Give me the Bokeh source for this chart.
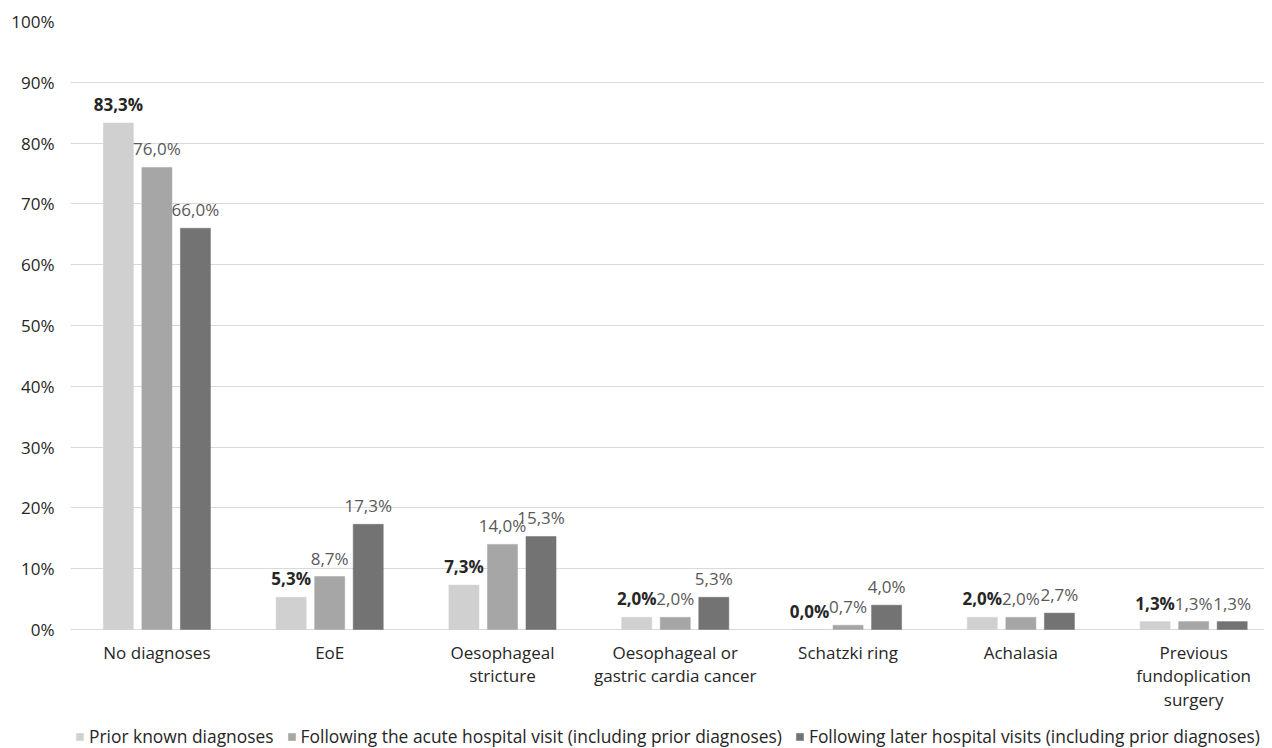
from bokeh.plotting import figure
from bokeh.models import ColumnDataSource, Range1d, FixedTicker, Legend, LegendItem
from bokeh.transform import dodge
from bokeh.embed import file_html
from bokeh.resources import INLINE
from bokeh.core.properties import value

categories = ["No diagnoses", "EoE", "Oesophageal\nstricture", "Oesophageal or\ngastric cardia cancer",
              "Schatzki ring", "Achalasia", "Previous\nfundoplication\nsurgery"]
series_names = ["Prior known diagnoses",
                "Following the acute hospital visit (including prior diagnoses)",
                "Following later hospital visits (including prior diagnoses)"]
prior = [83.3, 5.3, 7.3, 2.0, 0.0, 2.0, 1.3]
acute = [76.0, 8.7, 14.0, 2.0, 0.7, 2.0, 1.3]
later = [66.0, 17.3, 15.3, 5.3, 4.0, 2.7, 1.3]
y_ticks = [0, 10, 20, 30, 40, 50, 60, 70, 80, 90, 100]

colors = ["#d0d0d0", "#a6a6a6", "#737373"]
label_colors = ["#262626", "#595959", "#595959"]
label_styles = ["bold", "normal", "normal"]
FONT = "Open Sans"
FS = "17px"

x_idx = list(range(len(categories)))
src = ColumnDataSource(dict(
    x=x_idx, prior=prior, acute=acute, later=later,
    prior_lbl=[f"{v:.1f}%".replace(".", ",") for v in prior],
    acute_lbl=[f"{v:.1f}%".replace(".", ",") for v in acute],
    later_lbl=[f"{v:.1f}%".replace(".", ",") for v in later],
    cat=categories, base=[y_ticks[0]] * len(categories),
))

# frame spans from the top gridline down to the bottom of the picture;
# the region below 0% holds the category labels and the legend
px_per_unit = 608 / 100
below_px = 119
y_bottom = -(below_px / px_per_unit)

p = figure(frame_width=1194, frame_height=608 + below_px, output_backend="svg", toolbar_location=None,
           x_range=Range1d(-0.5, 6.41), y_range=Range1d(y_bottom, 100),
           min_border_left=70, min_border_right=0, min_border_top=21, min_border_bottom=0,
           x_axis_location=None)
p.outline_line_color = None
p.background_fill_color = "white"

step = 0.223
bw = 0.174
items = []
for i, (col, name) in enumerate(zip(["prior", "acute", "later"], series_names)):
    off = (i - 1) * step
    r = p.vbar(x=dodge("x", off), top=col, width=bw, source=src,
               fill_color=colors[i], line_color=colors[i], line_width=0.5)
    p.text(x=dodge("x", off), y=col, text=col + "_lbl", source=src,
           text_align="center", text_baseline="bottom", y_offset=-7,
           text_font=value(FONT), text_font_size=FS,
           text_color=label_colors[i], text_font_style=label_styles[i])
    items.append(LegendItem(label=name, renderers=[r]))

# category labels below the 0% line
p.text(x="x", y="base", text="cat", source=src, text_align="center", text_baseline="top",
       y_offset=11, text_font=value(FONT), text_font_size=FS, text_line_height=1.04,
       text_color="#262626")

p.yaxis.ticker = FixedTicker(ticks=y_ticks)
p.yaxis.major_label_overrides = {t: f"{t}%" for t in y_ticks}
p.yaxis.major_tick_line_color = None
p.yaxis.minor_tick_line_color = None
p.yaxis.axis_line_color = None
p.yaxis.major_label_text_font = FONT
p.yaxis.major_label_text_font_size = FS
p.yaxis.major_label_text_color = "#262626"
p.yaxis.major_label_standoff = 10

p.xgrid.grid_line_color = None
p.ygrid.grid_line_color = "#d9d9d9"
p.ygrid.ticker = FixedTicker(ticks=y_ticks)

legend = Legend(items=items, orientation="horizontal", location=(5, 0),
                label_text_font=FONT, label_text_font_size="17.4px", label_text_color="#262626",
                glyph_width=9, glyph_height=9, spacing=13, label_standoff=5,
                border_line_color=None, background_fill_alpha=0, padding=0, margin=0)
p.add_layout(legend, "center")

open("out.html", "w").write(file_html(p, INLINE))
